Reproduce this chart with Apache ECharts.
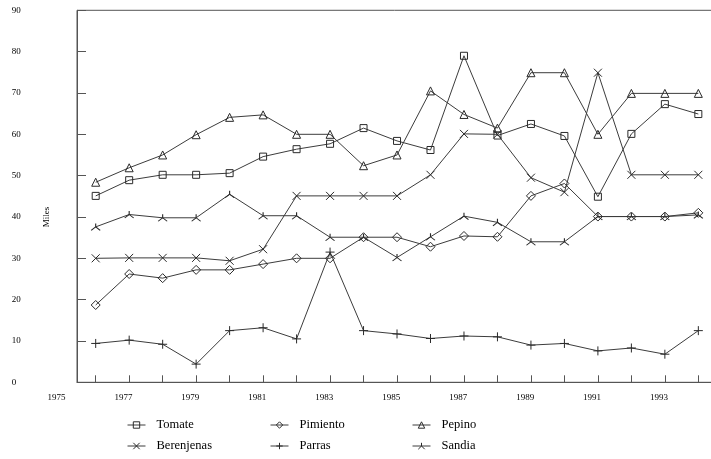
<!DOCTYPE html>
<html><head><meta charset="utf-8">
<script src="https://cdn.jsdelivr.net/npm/echarts@6/dist/echarts.min.js"></script>
<style>html,body{margin:0;padding:0;background:#fff}#c{width:711px;height:459px}</style>
</head><body><div id="c"></div><script>
const years = [1976,1977,1978,1979,1980,1981,1982,1983,1984,1985,1986,1987,1988,1989,1990,1991,1992,1993,1994];
const xTickLabels = [1975,1977,1979,1981,1983,1985,1987,1989,1991,1993];
const tomate     = [45.1,48.9,50.2,50.2,50.6,54.6,56.4,57.7,61.5,58.4,56.2,79.0,59.7,62.5,59.6,44.9,60.1,67.3,64.9];
const pimiento   = [18.7,26.2,25.2,27.2,27.2,28.6,30.0,30.0,35.1,35.1,32.8,35.4,35.2,45.1,48.1,40.1,40.1,40.1,41.0];
const pepino     = [48.4,51.9,55.0,59.9,64.1,64.7,60.0,60.0,52.4,55.0,70.5,64.8,61.5,74.9,74.9,60.0,69.9,69.9,69.9];
const berenjenas = [30.0,30.1,30.1,30.1,29.4,32.2,45.1,45.1,45.1,45.1,50.2,60.1,60.0,49.5,46.0,74.9,50.2,50.2,50.2];
const parras     = [9.4,10.2,9.2,4.4,12.5,13.2,10.5,31.5,12.5,11.7,10.6,11.2,11.0,9.0,9.4,7.6,8.3,6.8,12.5];
const sandia     = [37.6,40.6,39.8,39.8,45.5,40.3,40.3,35.1,35.1,30.2,35.2,40.2,38.7,34.0,34.0,40.1,40.1,40.1,40.5];
const seriesNames = ['Tomate','Pimiento','Pepino','Berenjenas','Parras','Sandia'];
const yName = 'Miles';

const FONT = 'Liberation Serif, Times New Roman, serif';
const AX = '#555';
const zip = v => years.map((y,i)=>[y,v[i]]);
const mk = (name, vals, symbol, size) => ({
  name, type:'line', data: zip(vals), xAxisIndex:0, yAxisIndex:0,
  symbol, symbolSize: size, showSymbol:true, showAllSymbol:true,
  lineStyle:{color:'#3c3c3c', width:1},
  itemStyle:{color:'rgba(0,0,0,0)', borderColor:'#2a2a2a', borderWidth:1},
  emphasis:{disabled:true}, animation:false, silent:true
});
const legendBase = {orient:'vertical', top:418, height:80, itemWidth:18, itemHeight:8, itemGap:7, padding:0,
  itemStyle:{color:'rgba(0,0,0,0)', borderColor:'#2a2a2a', borderWidth:1},
  lineStyle:{color:'#3c3c3c', width:1},
  textStyle:{fontFamily:FONT, fontSize:12.5, color:'#000', lineHeight:14, padding:[0,0,0,6]}};

const chart = echarts.init(document.getElementById('c'), null, {renderer:'canvas'});
chart.setOption({
  backgroundColor:'#fff',
  animation:false,
  grid:[
    {left:77, right:-1, top:10.3, bottom:76.7, show:true, borderColor:AX, borderWidth:1, backgroundColor:'transparent', outerBoundsMode:'none', containLabel:false},
    {left:0, right:0, top:10.3, bottom:76.7, show:false, outerBoundsMode:'none', containLabel:false}
  ],
  xAxis:[
    {gridIndex:0, type:'value', min:1975.4415, max:1994.408,
     axisLine:{show:true, lineStyle:{color:AX}},
     axisTick:{show:true, inside:true, length:7, customValues:years, lineStyle:{color:AX}},
     axisLabel:{show:false}, splitLine:{show:false}},
    {gridIndex:1, type:'value', min:1973.315, max:1994.551,
     axisLine:{show:false}, axisTick:{show:false}, splitLine:{show:false},
     axisLabel:{show:true, customValues:xTickLabels, margin:15, verticalAlign:'middle',
       fontFamily:FONT, fontSize:9, color:'#000', formatter:v=>String(v)}}
  ],
  yAxis:[
    {gridIndex:0, type:'value', min:0, max:90, interval:10,
     axisLine:{show:true, lineStyle:{color:AX}},
     axisTick:{show:true, inside:true, length:9, lineStyle:{color:AX}},
     axisLabel:{align:'left', margin:65.3, padding:[6,0,0,0], fontFamily:FONT, fontSize:9, color:'#000'},
     splitLine:{show:false}},
    {gridIndex:1, type:'value', min:0, max:90, show:false}
  ],
  legend:[
    Object.assign({left:127, data:[seriesNames[0], seriesNames[3]]}, legendBase),
    Object.assign({left:270, data:[seriesNames[1], seriesNames[4]]}, legendBase),
    Object.assign({left:412, data:[seriesNames[2], seriesNames[5]]}, legendBase)
  ],
  graphic:[{type:'text', x:47, y:217, rotation:Math.PI/2,
    style:{text:yName, fontFamily:FONT, fontSize:9, fill:'#000', align:'center', verticalAlign:'middle'}}],
  series:[
    mk(seriesNames[0], tomate, 'rect', 7),
    mk(seriesNames[1], pimiento, 'diamond', 9),
    mk(seriesNames[2], pepino, 'triangle', 8),
    mk(seriesNames[3], berenjenas, 'path://M0,0L10,10M0,10L10,0', 8),
    mk(seriesNames[4], parras, 'path://M5,0L5,10M0,5L10,5', 9),
    mk(seriesNames[5], sandia, 'path://M5,0L5,5L0,10M5,5L10,10', [9,7])
  ]
});
</script></body></html>
